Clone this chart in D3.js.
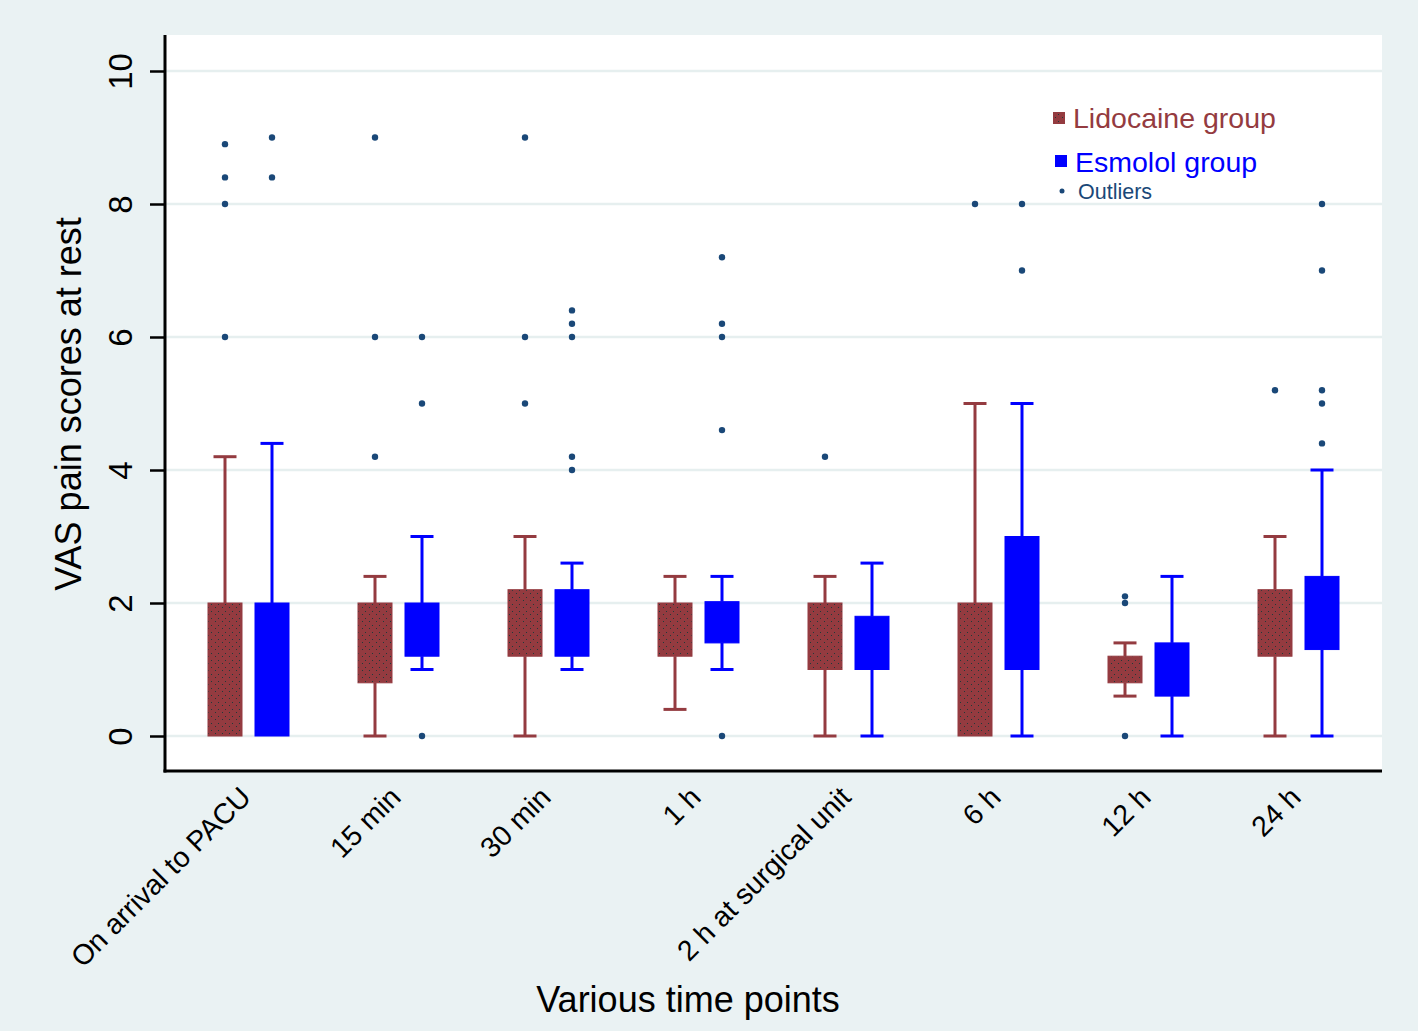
<!DOCTYPE html>
<html><head><meta charset="utf-8">
<script src="https://cdn.jsdelivr.net/npm/d3@7"></script>
<style>html,body{margin:0;padding:0;background:#eaf2f3;}svg{display:block;font-family:"Liberation Sans",Arial,sans-serif;}</style>
</head><body>
<script>
const categories = ["On arrival to PACU","15 min","30 min","1 h","2 h at surgical unit","6 h","12 h","24 h"];
const groups = ["Lidocaine group","Esmolol group"];
const yTicks = [0,2,4,6,8,10];
// [whiskerLow, q1, q3, whiskerHigh]
const lidoBoxes = [[0,0,2,4.2],[0,0.8,2,2.4],[0,1.2,2.2,3],[0.4,1.2,2,2.4],[0,1,2,2.4],[0,0,2,5],[0.6,0.8,1.2,1.4],[0,1.2,2.2,3]];
const esmoBoxes = [[0,0,2,4.4],[1,1.2,2,3],[1,1.2,2.2,2.6],[1,1.4,2.02,2.4],[0,1,1.8,2.6],[0,1,3,5],[0,0.6,1.4,2.4],[0,1.3,2.4,4]];
const lidoOutliers = [[8.9,8.4,8,6],[9,6,4.2],[9,6,5],[],[4.2],[8],[2.1,2.0,0],[5.2]];
const esmoOutliers = [[9,8.4],[6,5,0],[6.4,6.2,6,4.2,4],[7.2,6.2,6,4.6,0],[],[8,7],[],[8,7,5.2,5,4.4]];

const W=1418,H=1031;
const L=165,R=1382,T=35,B=771;
const svg=d3.select("body").append("svg").attr("width",W).attr("height",H);
svg.append("rect").attr("width",W).attr("height",H).attr("fill","#eaf2f3");
const defs=svg.append("defs");
const pat=defs.append("pattern").attr("id","dots").attr("patternUnits","userSpaceOnUse").attr("width",7).attr("height",7);
pat.append("rect").attr("width",7).attr("height",7).attr("fill","#943b40");
pat.append("rect").attr("x",1).attr("y",2).attr("width",1).attr("height",1).attr("fill","#1f3a3a");
pat.append("rect").attr("x",5).attr("y",5).attr("width",1).attr("height",1).attr("fill","#1f3a3a");

svg.append("rect").attr("x",L).attr("y",T).attr("width",R-L).attr("height",B-T).attr("fill","#ffffff");

const y=d3.scaleLinear().domain([0,10]).range([736,71]);
const x=d3.scaleBand().domain(categories).range([173.5,1373.5]);
const sub=d3.scaleBand().domain(groups).range([-47,47]);
const colors={"Lidocaine group":"#943b40","Esmolol group":"#0000ff"};
const fills={"Lidocaine group":"url(#dots)","Esmolol group":"#0000ff"};
function cx(ci,g){return x(categories[ci])+x.bandwidth()/2 + sub(groups[g]) + sub.bandwidth()/2;}

// gridlines
svg.append("g").selectAll("line").data(yTicks).join("line")
  .attr("x1",L).attr("x2",R).attr("y1",d=>y(d)).attr("y2",d=>y(d))
  .attr("stroke","#e6efef").attr("stroke-width",2.5);

const bw=34, cap=23;
[lidoBoxes,esmoBoxes].forEach((boxes,g)=>{
  const col=colors[groups[g]];
  const gg=svg.append("g");
  boxes.forEach((b,i)=>{
    const c=cx(i,g);
    if(b[3]>b[2]){
      gg.append("line").attr("x1",c).attr("x2",c).attr("y1",y(b[2])).attr("y2",y(b[3])).attr("stroke",col).attr("stroke-width",3);
      gg.append("line").attr("x1",c-cap/2).attr("x2",c+cap/2).attr("y1",y(b[3])).attr("y2",y(b[3])).attr("stroke",col).attr("stroke-width",3);
    }
    if(b[1]>b[0]){
      gg.append("line").attr("x1",c).attr("x2",c).attr("y1",y(b[0])).attr("y2",y(b[1])).attr("stroke",col).attr("stroke-width",3);
      gg.append("line").attr("x1",c-cap/2).attr("x2",c+cap/2).attr("y1",y(b[0])).attr("y2",y(b[0])).attr("stroke",col).attr("stroke-width",3);
    }
    gg.append("rect").attr("x",c-bw/2).attr("y",y(b[2])).attr("width",bw).attr("height",y(b[1])-y(b[2]))
      .attr("fill",fills[groups[g]]).attr("stroke",col).attr("stroke-width",1);
  });
});
// outliers
[lidoOutliers,esmoOutliers].forEach((outs,g)=>{
  outs.forEach((arr,i)=>{
    svg.append("g").selectAll("circle").data(arr).join("circle")
      .attr("cx",cx(i,g)).attr("cy",d=>y(d)).attr("r",3.2).attr("fill","#1a4878");
  });
});

// y axis
const ya=svg.append("g").attr("transform",`translate(${L},0)`).call(d3.axisLeft(y).tickValues(yTicks).tickSize(15).tickPadding(0).tickFormat(d3.format("d")));
ya.select(".domain").remove();
ya.selectAll(".tick line").attr("stroke","#000").attr("stroke-width",2.5);
ya.selectAll(".tick text").attr("font-size",33).attr("fill","#000")
  .attr("text-anchor","middle").attr("x",0).attr("dy","0.35em")
  .attr("transform","translate(-45,0) rotate(-90)");
svg.append("line").attr("x1",L).attr("x2",L).attr("y1",T).attr("y2",B+1.5).attr("stroke","#000").attr("stroke-width",3);

// x axis
const xa=svg.append("g").attr("transform",`translate(0,${B})`).call(d3.axisBottom(x).tickSize(0).tickPadding(0));
xa.select(".domain").remove();
xa.selectAll(".tick text").attr("font-size",28.5).attr("fill","#000").attr("text-anchor","end")
  .attr("y",0).attr("dy",0)
  .attr("transform","translate(4,28) rotate(-45)");
svg.append("line").attr("x1",L-1.5).attr("x2",R).attr("y1",B).attr("y2",B).attr("stroke","#000").attr("stroke-width",3);

// titles
svg.append("text").attr("x",688).attr("y",1012).attr("text-anchor","middle").attr("font-size",36).attr("fill","#000").text("Various time points");
svg.append("text").attr("transform",`translate(81,404) rotate(-90)`).attr("text-anchor","middle").attr("font-size",36).attr("fill","#000").text("VAS pain scores at rest");

// legend
const lg=svg.append("g");
lg.append("rect").attr("x",1053).attr("y",112).attr("width",12).attr("height",12).attr("fill","url(#dots)");
lg.append("text").attr("x",1073).attr("y",128).attr("font-size",28.5).attr("fill","#943b40").text(groups[0]);
lg.append("rect").attr("x",1055).attr("y",155).attr("width",12).attr("height",12).attr("fill","#0000ff");
lg.append("text").attr("x",1075).attr("y",172).attr("font-size",28.5).attr("fill","#0000ff").text(groups[1]);
lg.append("circle").attr("cx",1062).attr("cy",191).attr("r",2.5).attr("fill","#1a4878");
lg.append("text").attr("x",1078).attr("y",199).attr("font-size",21.5).attr("fill","#1a4878").text("Outliers");
</script>
</body></html>
